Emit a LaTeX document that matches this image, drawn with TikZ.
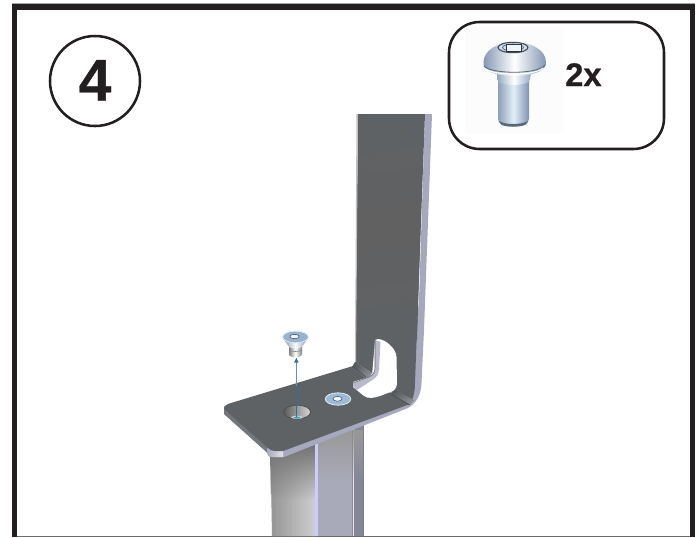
\documentclass[tikz,border=0pt]{standalone}
\usepackage{fontspec}
\setmainfont{Liberation Sans}
\newfontfamily\heavyfont[FakeBold=0.6]{Liberation Sans Bold}
\usetikzlibrary{fadings}
\definecolor{plate}{HTML}{5F6265}
\definecolor{edgelight}{HTML}{A6A8BE}
\definecolor{frameblack}{HTML}{231F20}
\definecolor{metalblue}{HTML}{9DBBD8}
\definecolor{midface}{HTML}{A9AAB9}
\definecolor{rightface}{HTML}{85869A}
\definecolor{sidedark}{HTML}{73767C}
\definecolor{tealmark}{HTML}{3AA6B0}
\definecolor{arrowpale}{HTML}{A9C3DA}
\definecolor{arrowdark}{HTML}{2F6FA8}
\definecolor{arrowmid}{HTML}{5F93BF}
\definecolor{shanksideA}{HTML}{8FA0B5}
\definecolor{shanksideB}{HTML}{7F93B0}
\definecolor{shankmid}{HTML}{E3EEF8}
\definecolor{bandA}{HTML}{55585B}
\definecolor{bandB}{HTML}{8E9196}
\tikzset{
  framebar/.style={fill=frameblack,draw=none},
  outline/.style={draw=frameblack,line width=1.9pt},
  lab/.style={text=frameblack,inner sep=0pt,anchor=base},
}
\begin{document}
\begin{tikzpicture}[x=0.75pt,y=-0.75pt]
\useasboundingbox (0,0) rectangle (700,537);
\fill[white] (0,0) rectangle (700,537);
% frame
\fill[gray!70] (12,3.2) rectangle (695,5);
\fill[framebar] (12,4.2) rectangle (695,10);
\fill[framebar] (12,4.2) rectangle (17.3,537);
\fill[framebar] (690,4.2) rectangle (695.3,537);
\fill[gray!85!black] (17.3,535.8) rectangle (690,537);
% number circle
\node[circle,outline,fill=white,minimum size=67.5pt,inner sep=0pt] (num) at (95,81) {};
\node[lab,font=\fontsize{44}{44}\heavyfont] (numtext) at (95,100.5) {4};
% inset box
\draw[outline,rounded corners=23pt,fill=white] (449,22) rectangle (664,149);
\fill[black!1!white] (465,27) rectangle (562,133);
\node[lab,font=\fontsize{24.5}{24.5}\heavyfont,anchor=base west] (count) at (565,86) {2x};
% inset screw
\shade[left color=shanksideA,right color=shanksideB,middle color=shankmid]
  (498,78) -- (529,78) -- (529,119) .. controls (529,125) and (521,126) .. (513,126) .. controls (505,126) and (498,125) .. (498,119) -- cycle;
\fill[shanksideB!70!black] (499,121) .. controls (505,125) and (521,125) .. (528,121) -- (526,124.5) .. controls (520,127.5) and (506,127.5) .. (501,124.5) -- cycle;
\shade[left color=metalblue!70!gray,right color=metalblue!90!black,middle color=white]
  (497,74) -- (531,74) -- (529,82) .. controls (520,86) and (507,86) .. (498,82) -- cycle;
\shade[left color=shanksideB,right color=shanksideB,middle color=white]
  (483.5,62) .. controls (484,50) and (498,42) .. (514,42) .. controls (531,42) and (546,50) .. (546,62)
  .. controls (547,70) and (535,76) .. (514,76) .. controls (494,76) and (482,70) .. (483.5,62) -- cycle;
\draw[black!45!metalblue,line width=.6pt] (484,66) .. controls (490,74) and (538,75) .. (545,65);
\draw[white,line width=.8pt] (486,69) .. controls (495,76) and (535,76) .. (543,68);
\draw[black!60!metalblue,line width=.8pt,fill=metalblue!50] (513,47.5) ellipse (15 and 5.2);
\draw[black!50!metalblue,line width=.5pt] (513,47.5) ellipse (10.5 and 3.5);
\fill[white!85!metalblue,draw=black!70!metalblue,line width=.5pt] (506,44) -- (521.5,44) -- (521.5,51.5) -- (506,51.5) -- cycle;
% post
\shade[left color=black!42,right color=black!18] (270,425) -- (317,425) -- (317,536) -- (272,536) -- cycle;
\fill[white!80!blue] (315,425) rectangle (317.5,536);
\fill[midface] (317.5,425) rectangle (352,536);
\fill[black!10] (352,425) rectangle (353.5,536);
\fill[rightface] (353.5,425) rectangle (364,536);
\fill[black!55,path fading=south] (270,445) rectangle (315,500);
\fill[black!40,path fading=south] (317.5,430) rectangle (364,480);
\fill[black!45] (351.5,425) rectangle (352.3,536);
\fill[black!50] (363.3,425) rectangle (364,536);
% bracket: light outer edge
\path[fill=edgelight] (425,114) -- (432,114) -- (424,330) -- (421.5,383)
  .. controls (421,396) and (416,403) .. (408,408) -- (284,457) -- (270,457)
  .. controls (268,456) and (267,454) .. (267,452) -- (224,414) -- (224,406) -- (340,375) -- (410,390) -- (419,300) -- cycle;
\fill[sidedark] (224,407) -- (224,414) -- (267,452.5) -- (268,447) -- cycle;
\shade[left color=edgelight,right color=white!70!edgelight] (268,447) -- (283,450) -- (283,457) -- (272,457) .. controls (268,457) and (267,454) .. (267,451) -- cycle;
% plate top
\path[fill=plate] (224,409) .. controls (224,406) and (227,404) .. (231,403)
  -- (353,366) -- (368,378) -- (395,396) -- (410,404) -- (283,451) -- (275,451)
  .. controls (272,451) and (270,450) .. (268,448) -- cycle;
% vertical face
\path[fill=plate] (358,114) -- (425,114) -- (415,383) .. controls (415,390) and (414,395) .. (412,400)
  -- (393,390) -- (372,373) -- (355,362) -- (356,300) -- cycle;
\shade[top color=plate,bottom color=plate,middle color=black!62,shading angle=8] (359,114) -- (424,114) -- (417,340) -- (357,340) -- cycle;
\fill[black!25] (356.5,114) -- (358,114) -- (356,362) -- (355,362) -- cycle;
% bend bands
\shade[top color=bandA,bottom color=bandB,shading angle=35] (355,362) -- (372,373) -- (368,380) -- (352,367) -- cycle;
\draw[black!70,line width=.5pt] (353,366) -- (368,379);
\shade[top color=bandA,bottom color=bandB,shading angle=30] (393,389) -- (414,400) -- (410,405) -- (391,394) -- cycle;
\draw[black!70,line width=.5pt] (391,394) -- (410,405);
% slot
\path[fill=white] (378,339) .. controls (382,339) and (387,342) .. (390,345)
  .. controls (394,349) and (396,352) .. (396.5,357) -- (397,382)
  .. controls (397,386) and (396,389) .. (393,391) -- (380,396)
  .. controls (374,398) and (368,399) .. (364,396) -- (353,387) -- (353,382) -- (372,376) -- (375,340) -- cycle;
\path[fill=edgelight!80!white] (375,340) -- (380.5,342) -- (379,369)
  .. controls (378.5,374) and (377,377) .. (373,379.5) -- (357,390) -- (353,386) -- (353,383)
  -- (369,377) .. controls (373,375) and (375,372) .. (375,368) -- cycle;
\draw[black!60,line width=.4pt] (375,340) -- (375,368) .. controls (375,372) and (373,375) .. (369,377) -- (353,383);
% hole
\shade[left color=black!65,right color=black!15,draw=black!70,line width=.5pt] (297,412) ellipse (13.5 and 6.8);
\fill[black!20] (297,417.3) ellipse (6 and 1.6);
\fill[tealmark] (297,417.7) ellipse (3.5 and 1);
% fitted screw
\fill[metalblue,draw=white!70!metalblue,line width=.6pt] (338,399) ellipse (12.8 and 6.2);
\fill[white!85!metalblue,draw=black!60!metalblue,line width=.4pt] (337.5,398.8) ellipse (4.6 and 2.4);
% arrow
\coordinate (holec) at (296.3,417);
\coordinate (tip) at (296.3,358);
\draw[arrowpale,line width=1pt] (296.8,417) -- (296.8,362);
\draw[arrowdark,line width=.7pt] (holec) -- (296.3,386);
\draw[arrowmid,line width=.5pt] (296.3,386) -- (tip);
\fill[arrowdark] (tip) -- (298.6,362.5) -- (294,362.5) -- cycle;
% loose screw
\shade[left color=black!50,right color=black!50,middle color=white] (289,343) -- (302,343) -- (302,354) .. controls (302,358.5) and (289,358.5) .. (289,354) -- cycle;
\shade[left color=shanksideB,right color=shanksideB,middle color=white] (283,338) .. controls (288,345) and (303,345) .. (308,338) -- (302,347) .. controls (298,349) and (292,349) .. (289,347) -- cycle;
\draw[black!50,line width=.4pt] (289,350) .. controls (292,352) and (299,352) .. (302,350);
\fill[metalblue!85!gray,draw=white!60!metalblue,line width=.6pt] (295.5,337) ellipse (12.8 and 5.8);
\fill[white!85!metalblue,draw=black!60!metalblue,line width=.4pt] (294.5,336.5) ellipse (4.6 and 2.2);
\end{tikzpicture}
\end{document}
